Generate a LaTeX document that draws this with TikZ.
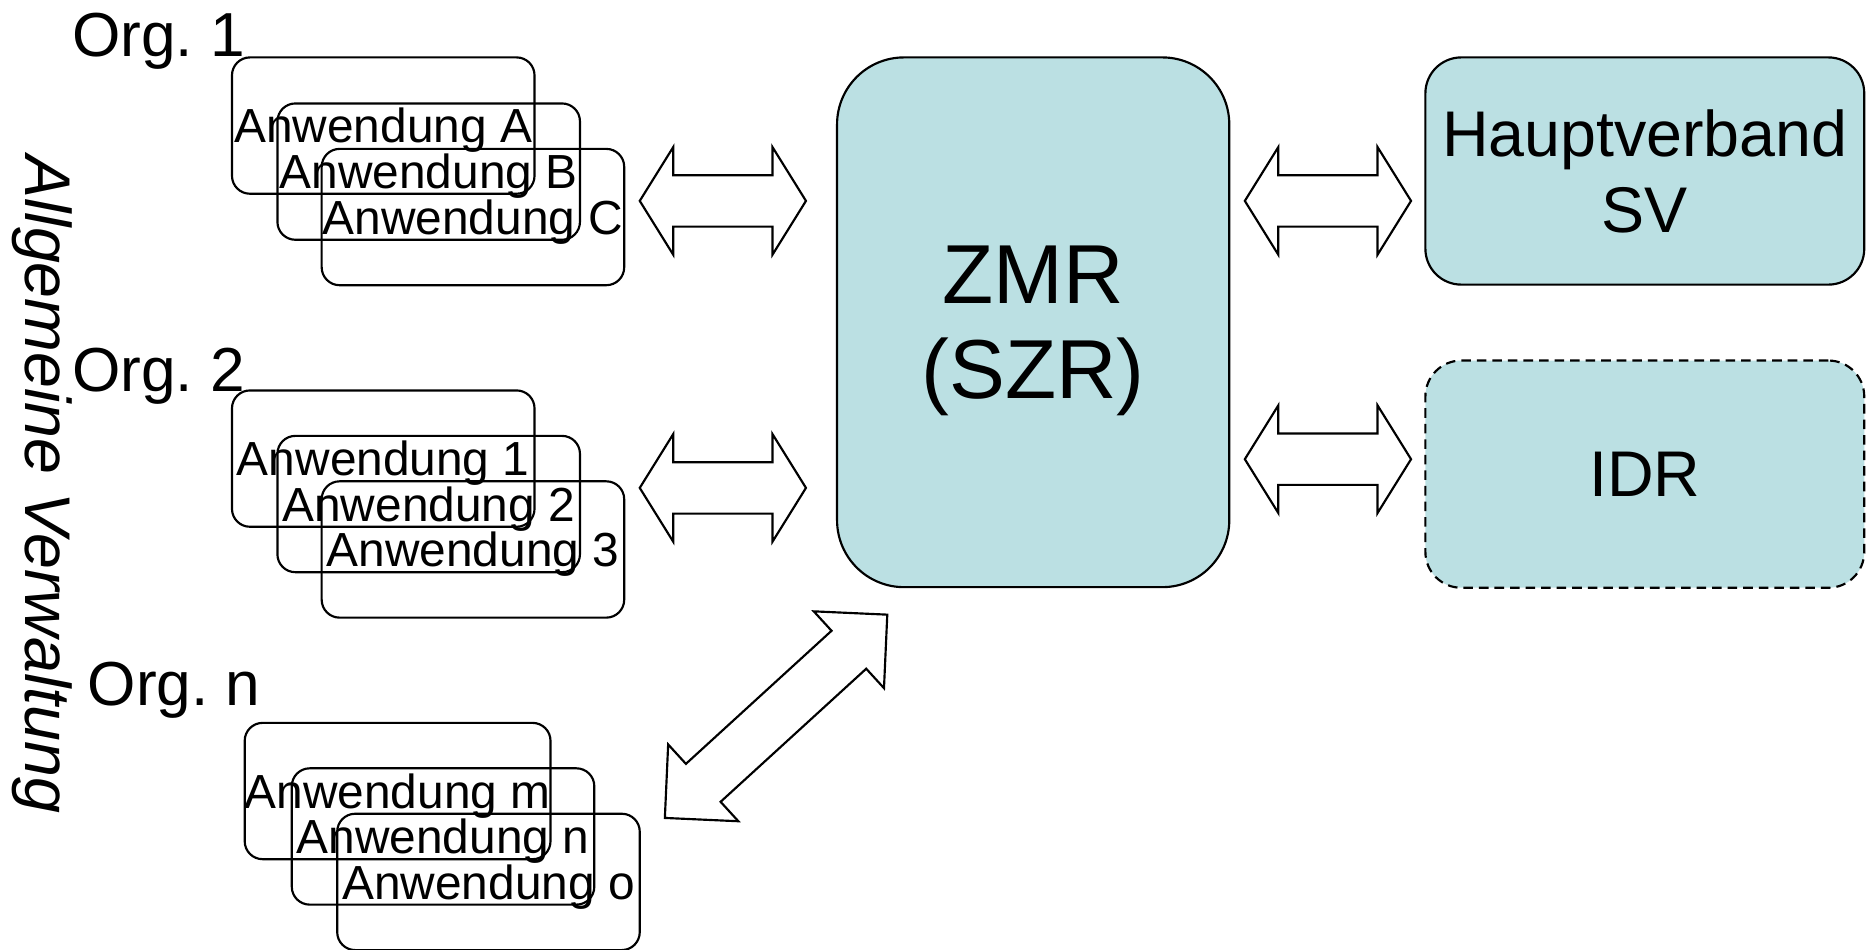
\documentclass[tikz,border=0pt]{standalone}
\usepackage{fontspec}
\setmainfont{Liberation Sans}
\frenchspacing
\definecolor{zmrfill}{RGB}{187,224,227}
\tikzset{
  app/.style={draw=black, line width=0.9pt, rounded corners=7.5pt, minimum width=126.5pt,
    minimum height=57pt, inner sep=0pt, text depth=0pt, font=\fontsize{20pt}{24pt}\selectfont},
  orglabel/.style={anchor=base west, inner sep=0pt, font=\fontsize{26pt}{30pt}\selectfont},
  bigbox/.style={draw=black, line width=0.9pt, fill=zmrfill, inner sep=0pt, align=center, text depth=0pt},
  blockarrow/.style={draw=black, line width=0.9pt, fill=white, line join=miter},
}
\newcommand\HDblArrow[3]{% left tip x, right tip x, centre y
  \draw[blockarrow] (#1,#3) -- (#1+28,#3-45) -- (#1+28,#3-21.5) -- (#2-28,#3-21.5)
    -- (#2-28,#3-45) -- (#2,#3) -- (#2-28,#3+45) -- (#2-28,#3+21.5)
    -- (#1+28,#3+21.5) -- (#1+28,#3+45) -- cycle;}
\begin{document}
\begin{tikzpicture}[x=0.5pt,y=-0.5pt]
\useasboundingbox (0,0) rectangle (1568,794);

% vertical label
\node[rotate=-90, inner sep=0pt, font=\fontsize{27pt}{30pt}\selectfont\itshape] (av) at (35,405) {Allgemeine Verwaltung};

% organisation labels
\node[orglabel] (org1) at (60,47) {Org. 1};
\node[orglabel] (org2) at (60,327) {Org. 2};
\node[orglabel] (orgn) at (73,590) {Org. n};

% application boxes
\node[app] (aA) at (320.5,105) {Anwendung A};
\node[app] (aB) at (358.5,143.5) {Anwendung B};
\node[app] (aC) at (395.5,181.5) {Anwendung C};

\node[app] (a1) at (320.5,383.5) {Anwendung 1};
\node[app] (a2) at (358.5,421.5) {Anwendung 2};
\node[app] (a3) at (395.5,459.5) {Anwendung 3};

\node[app] (am) at (332.5,661.5) {Anwendung m};
\node[app] (an) at (370.5,699.5) {Anwendung n};
\node[app] (ao) at (408.5,737.5) {Anwendung o};

% central and right boxes
\node[bigbox, rounded corners=28pt, minimum width=164pt, minimum height=221.5pt,
  font=\fontsize{35pt}{40pt}\selectfont] (zmr) at (864,269.5) {ZMR\\(SZR)};
\node[bigbox, rounded corners=15pt, minimum width=183.5pt, minimum height=95pt,
  font=\fontsize{27pt}{31.5pt}\selectfont] (hv) at (1375.5,143) {Hauptverband\\SV};
\node[bigbox, dash pattern=on 4pt off 2.5pt, rounded corners=15pt, minimum width=183.5pt, minimum height=95pt,
  font=\fontsize{27pt}{31.5pt}\selectfont] (idr) at (1375.5,396.5) {IDR};

% block double arrows
\HDblArrow{535}{674}{168}
\HDblArrow{535}{674}{408}
\HDblArrow{1041}{1180}{168}
\HDblArrow{1041}{1180}{384}

\draw[blockarrow] (742,514) -- (739.24,575.46) -- (724.39,559.22) -- (602.61,670.52)
  -- (617.46,686.76) -- (556,684) -- (558.76,622.54) -- (573.61,638.78)
  -- (695.39,527.48) -- (680.54,511.24) -- cycle;
\end{tikzpicture}
\end{document}
